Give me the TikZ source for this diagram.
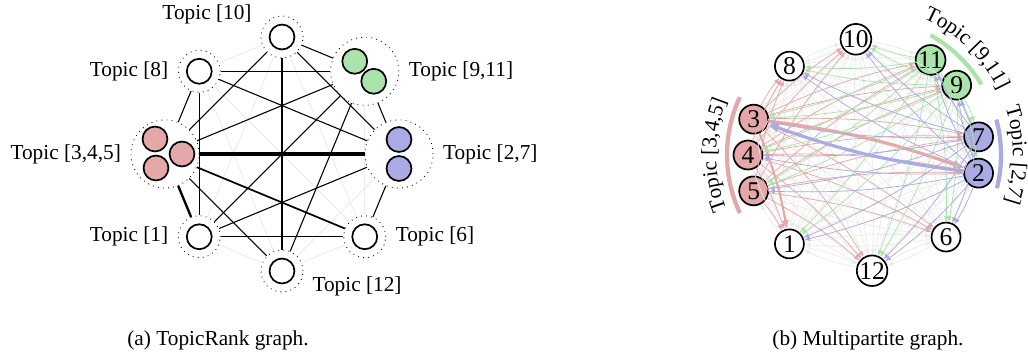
\documentclass[tikz,border=0pt]{standalone}
\usepackage{fontspec}
\setmainfont{Liberation Serif}
\usepackage{tikz}
\usetikzlibrary{arrows.meta,positioning,decorations.text}
\definecolor{topicred}{RGB}{229,168,168}
\definecolor{topicgreen}{RGB}{170,228,170}
\definecolor{topicblue}{RGB}{170,170,228}
\tikzset{
    %Define standard arrow tip
    >={Latex[length=2pt 2,width=1.6pt 2]},
    %Define style for topic graph
    leaf/.style={
           circle,
           draw=black, thick,
           minimum size=11.7pt,
           inner sep=0pt,
           fill=white},
    single/.style={
           circle,
           draw=black, dotted,
           minimum size=19.7pt},
    cluster/.style={
           circle,
           draw=black, dotted,
           minimum size=32pt},
    faint/.style={
           black!8,
           line width=0.4pt},
    link/.style={
           black,
           line width=0.5pt},
    %Define style for multipartite graph
    vertex/.style={
           circle,
           draw=black, thick,
           minimum size=13.6pt,
           inner sep=0pt,
           font=\large,
           fill=white},
    topicarc/.style={
           line width=2pt},
    arctext/.style={
           decorate,
           decoration={text along path, text={#1}, text align=center}}
}
\begin{document}
\begin{tikzpicture}[x=0.4695pt,y=0.4695pt]
\useasboundingbox (0,0) rectangle (1028,-352);

 %topics
\begin{scope}[shift={(282,-154)}]
\node[single](t10) at (90:117){};
\node[cluster](t911) at (45:117){};
\node[cluster](t27) at (0:117){};
\node[single](t6) at (-45:117){};
\node[single](t12) at (-90:117){};
\node[single](t1) at (-135:117){};
\node[cluster](t345) at (180:117){};
\node[single](t8) at (135:117){};
\end{scope}

\node[leaf](l10) at (t10){};
\node[leaf](l6) at (t6){};
\node[leaf](l12) at (t12){};
\node[leaf](l1) at (t1){};
\node[leaf](l8) at (t8){};
\node[leaf, fill=topicgreen](g11) at ([shift={(-10,10)}]t911.center){};
\node[leaf, fill=topicgreen](g9) at ([shift={(9,-10)}]t911.center){};
\node[leaf, fill=topicblue](b7) at ([shift={(0,14.5)}]t27.center){};
\node[leaf, fill=topicblue](b2) at ([shift={(0,-14.5)}]t27.center){};
\node[leaf, fill=topicred](r3) at ([shift={(-10,15)}]t345.center){};
\node[leaf, fill=topicred](r4) at ([shift={(17,0)}]t345.center){};
\node[leaf, fill=topicred](r5) at ([shift={(-9,-14)}]t345.center){};

\node(lab10) at ([shift={(-75,23)}]t10){Topic [10]};
\node[right=1pt of t911](lab911){Topic [9,11]};
\node[right=1pt of t27](lab27){Topic [2,7]};
\node[right=1pt of t6](lab6){Topic [6]};
\node(lab12) at ([shift={(75,-15)}]t12){Topic [12]};
\node[left=1pt of t1](lab1){Topic [1]};
\node[left=1pt of t345](lab345){Topic [3,4,5]};
\node[left=1pt of t8](lab8){Topic [8]};

 %edges
\foreach \a [count=\i] in {t10,t911,t27,t6,t12,t1,t345,t8}
  \foreach \b [count=\j] in {t10,t911,t27,t6,t12,t1,t345,t8}
    {\ifnum\i<\j \draw[faint] (\a) -- (\b); \fi}

\path[link]
    (t10) edge (t911)
    (t10) edge (t345)
    (t10) edge (t12)
    (t10) edge (t27)
    (t8) edge (t911)
    (t8) edge (t27)
    (t8) edge (t345)
    (t8) edge (t1)
    (t345) edge (t911)
    (t345) edge (t12)
    (t1) edge (t911)
    (t1) edge (t27)
    (t1) edge (t6)
    (t911) edge (t12)
    (t911) edge (t27)
    (t27) edge (t6);
\draw[link, line width=2pt] (t345) -- (t27);
\draw[link, line width=1.1pt] (t345) -- (t1);
\draw[link, line width=0.8pt] (t345) -- (t6);

 %candidates
\begin{scope}[shift={(864,-155)}]
\node[vertex](n10) at (94:116){10};
\node[vertex](n8) at (130:116){8};
\node[vertex, fill=topicred](n3) at (162:116){3};
\node[vertex, fill=topicred](n4) at (180:116){4};
\node[vertex, fill=topicred](n5) at (198:116){5};
\node[vertex](n1) at (230:116){1};
\node[vertex](n12) at (274:116){12};
\node[vertex](n6) at (315:116){6};
\node[vertex, fill=topicblue](n2) at (351:116){2};
\node[vertex, fill=topicblue](n7) at (9:116){7};
\node[vertex, fill=topicgreen](n9) at (37:116){9};
\node[vertex, fill=topicgreen](n11) at (55:116){11};

\draw[topicarc, topicred] (155:137) arc[start angle=155, end angle=205, radius=137];
\draw[topicarc, topicgreen] (31:137) arc[start angle=31, end angle=61, radius=137];
\draw[topicarc, topicblue] (-14:137) arc[start angle=-14, end angle=15, radius=137];
\path[arctext={Topic [3,4,5]}] (240:148) arc[start angle=240, end angle=120, radius=148];
\path[arctext={Topic [9,11]}] (106:149) arc[start angle=106, end angle=-14, radius=149];
\path[arctext={Topic [2,7]}] (60:149) arc[start angle=60, end angle=-60, radius=149];
\end{scope}

\foreach \s/\ts/\c in {1/1/black!8, 6/6/black!8, 8/8/black!8, 10/10/black!8, 12/12/black!8,
    3/3/topicred, 4/3/topicred, 5/3/topicred, 9/9/topicgreen, 11/9/topicgreen, 2/2/topicblue, 7/2/topicblue}
  \foreach \t/\tt in {1/1, 2/2, 3/3, 4/3, 5/3, 6/6, 7/2, 8/8, 9/9, 10/10, 11/9, 12/12}
    {\ifnum\ts=\tt\relax\else
       \pgfmathsetmacro\lw{((\s==3 && \t==2) || (\s==2 && \t==3)) ? 1.5 : ((\s==3 && \t==1) ? 1 : 0.35)}
       \draw[->, color=\c, line width=\lw pt] (n\s) to[bend left=6] (n\t);
     \fi}

 %captions
\node(capa) at (218,-340){(a) TopicRank graph.};
\node(capb) at (868,-340){(b) Multipartite graph.};
\end{tikzpicture}
\end{document}
